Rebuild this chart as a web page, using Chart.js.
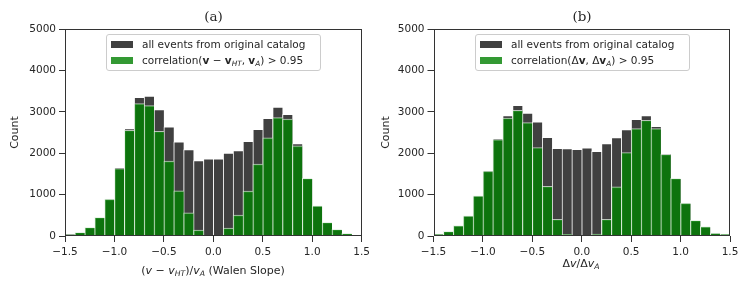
<!DOCTYPE html>
<html lang="en">
<head>
<meta charset="UTF-8">
<title>Walen slope histograms</title>
<script src="https://cdn.jsdelivr.net/npm/chart.js"></script>
<style>
  body { margin: 0; background: #fff; font-family: "DejaVu Sans", sans-serif; color: #262626; }
  #page { position: relative; width: 748px; height: 287px; overflow: hidden; }
  canvas { position: absolute; top: 0; }
  .title { position: absolute; font-family: "DejaVu Serif", serif; font-size: 13.5px; transform: translate(-50%, -50%); white-space: nowrap; }
  .xlabel { position: absolute; font-size: 11px; transform: translate(-50%, -50%); white-space: nowrap; }
  .legend { position: absolute; top: 34px; width: 215px; height: 37px; border: 1px solid #ccc; border-radius: 3px; background: rgba(255,255,255,0.8); box-sizing: border-box; }
  .row { position: absolute; left: 0; height: 16px; line-height: 16px; font-size: 10.5px; white-space: nowrap; }
  .patch { position: absolute; left: 4px; width: 22px; height: 7px; top: 4.5px; }
  .row span.txt { position: absolute; left: 35px; }
  sub { font-size: 70%; vertical-align: baseline; position: relative; top: 0.3em; }
</style>
</head>
<body>
<div id="page">
  <canvas id="chartA" width="374" height="287" style="left:0"></canvas>
  <canvas id="chartB" width="374" height="287" style="left:374px"></canvas>

  <div class="title" style="left:213.5px; top:16px">(a)</div>
  <div class="title" style="left:582px; top:16px">(b)</div>

  <div class="legend" style="left:106px">
    <div class="row" style="top:1px"><div class="patch" style="background:#404040"></div><span class="txt">all events from original catalog</span></div>
    <div class="row" style="top:17px"><div class="patch" style="background:rgb(51,153,51)"></div><span class="txt">correlation(<b>v</b> − <b>v</b><sub><i>HT</i></sub>, <b>v</b><sub><i>A</i></sub>) &gt; 0.95</span></div>
  </div>
  <div class="legend" style="left:475px">
    <div class="row" style="top:1px"><div class="patch" style="background:#404040"></div><span class="txt">all events from original catalog</span></div>
    <div class="row" style="top:17px"><div class="patch" style="background:rgb(51,153,51)"></div><span class="txt">correlation(Δ<b>v</b>, Δ<b>v</b><sub><i>A</i></sub>) &gt; 0.95</span></div>
  </div>

  <div class="xlabel" style="left:213px; top:270px">(<i>v</i> − <i>v</i><sub><i>HT</i></sub>)/<i>v</i><sub><i>A</i></sub> (Walen Slope)</div>
  <div class="xlabel" style="left:581px; top:263px">Δ<i>v</i>/Δ<i>v</i><sub><i>A</i></sub></div>
</div>

<script>
// histogram bins (width 0.1) from -1.5 to 1.5
const binCenters = [-1.45, -1.35, -1.25, -1.15, -1.05, -0.95, -0.85, -0.75, -0.65, -0.55,
                    -0.45, -0.35, -0.25, -0.15, -0.05, 0.05, 0.15, 0.25, 0.35, 0.45,
                    0.55, 0.65, 0.75, 0.85, 0.95, 1.05, 1.15, 1.25, 1.35, 1.45];

// panel (a): Walen slope
const allEventsA = [40, 90, 210, 450, 890, 1655, 2595, 3350, 3380, 3052,
                    2635, 2273, 2088, 1823, 1863, 1863, 2000, 2064, 2289, 2578,
                    2843, 3116, 2940, 2233, 1395, 731, 329, 161, 64, 16];
const correlatedA = [32, 90, 210, 450, 890, 1630, 2555, 3197, 3150, 2530,
                     1807, 1092, 562, 145, 0, 0, 193, 506, 1084, 1735,
                     2369, 2859, 2827, 2177, 1390, 731, 329, 161, 64, 16];

// panel (b): dv / dvA
const allEventsB = [48, 112, 249, 490, 972, 1582, 2353, 2908, 3157, 2972,
                    2755, 2386, 2120, 2112, 2096, 2128, 2048, 2232, 2376, 2570,
                    2819, 2908, 2650, 1990, 1390, 795, 378, 225, 72, 48];
const correlatedB = [48, 112, 249, 490, 972, 1566, 2329, 2851, 3036, 2739,
                     2137, 1197, 400, 40, 0, 0, 48, 400, 1188, 2016,
                     2594, 2795, 2594, 1970, 1390, 795, 378, 225, 72, 48];

const xTickValues = [-1.5, -1.0, -0.5, 0.0, 0.5, 1.0, 1.5];
const yTickValues = [0, 1000, 2000, 3000, 4000, 5000];

const axisColor = '#333333';
const textColor = '#262626';

// draws the full box round the plot area, on top of the bars
const framePlugin = {
    id: 'frame',
    afterDatasetsDraw(chart) {
        const a = chart.chartArea;
        const ctx = chart.ctx;
        ctx.save();
        ctx.strokeStyle = axisColor;
        ctx.lineWidth = 1;
        const l = Math.round(a.left) + 0.5, r = Math.round(a.right) - 0.5;
        const t = Math.round(a.top) + 0.5, b = Math.round(a.bottom) - 0.5;
        ctx.strokeRect(l, t, r - l, b - t);
        ctx.restore();
    }
};

function toPoints(values) {
    return values.map((v, i) => ({ x: binCenters[i], y: v }));
}

function makePanel(id, allEvents, correlated, padRight, yWidth, countPad) {
    new Chart(document.getElementById(id), {
        type: 'bar',
        data: {
            datasets: [
                {
                    label: 'all events from original catalog',
                    data: toPoints(allEvents),
                    backgroundColor: '#404040',
                    borderColor: 'rgba(255,255,255,0.75)',
                    borderWidth: { left: 1, top: 1, right: 0, bottom: 0 },
                    order: 1
                },
                {
                    label: 'correlation > 0.95',
                    data: toPoints(correlated),
                    backgroundColor: 'rgba(0,128,0,0.8)',
                    borderColor: 'rgba(225,240,225,0.75)',
                    borderWidth: { left: 1, top: 1, right: 0, bottom: 0 },
                    order: 0
                }
            ]
        },
        options: {
            responsive: false,
            animation: false,
            devicePixelRatio: 1,
            grouped: false,
            barPercentage: 1,
            categoryPercentage: 1,
            layout: { padding: { left: 0, right: padRight, top: 29, bottom: 0 } },
            plugins: {
                legend: { display: false },
                tooltip: { enabled: false }
            },
            scales: {
                x: {
                    type: 'linear',
                    min: -1.5,
                    max: 1.5,
                    offset: false,
                    afterBuildTicks: s => { s.ticks = xTickValues.map(v => ({ value: v })); },
                    afterFit: s => { s.height = 51; },
                    grid: { display: true, offset: false, drawOnChartArea: false, color: axisColor, tickLength: 6 },
                    border: { display: false },
                    ticks: {
                        color: textColor,
                        padding: 4,
                        maxRotation: 0,
                        font: { family: 'DejaVu Sans', size: 10.5 },
                        callback: v => (v < 0 ? '\u2212' : '') + Math.abs(v).toFixed(1)
                    }
                },
                y: {
                    min: 0,
                    max: 5000,
                    afterBuildTicks: s => { s.ticks = yTickValues.map(v => ({ value: v })); },
                    afterFit: s => { s.width = yWidth; },
                    grid: { display: true, drawOnChartArea: false, color: axisColor, tickLength: 6 },
                    border: { display: false },
                    ticks: {
                        color: textColor,
                        padding: 3,
                        font: { family: 'DejaVu Sans', size: 10.5 },
                        callback: v => String(v)
                    },
                    title: {
                        display: true,
                        text: 'Count',
                        color: textColor,
                        font: { family: 'DejaVu Sans', size: 11 },
                        padding: { top: countPad, bottom: 0 }
                    }
                }
            }
        },
        plugins: [framePlugin]
    });
}

makePanel('chartA', allEventsA, correlatedA, 12, 65, 8.4);
makePanel('chartB', allEventsB, correlatedB, 18, 59.5, 5.4);
</script>
</body>
</html>
